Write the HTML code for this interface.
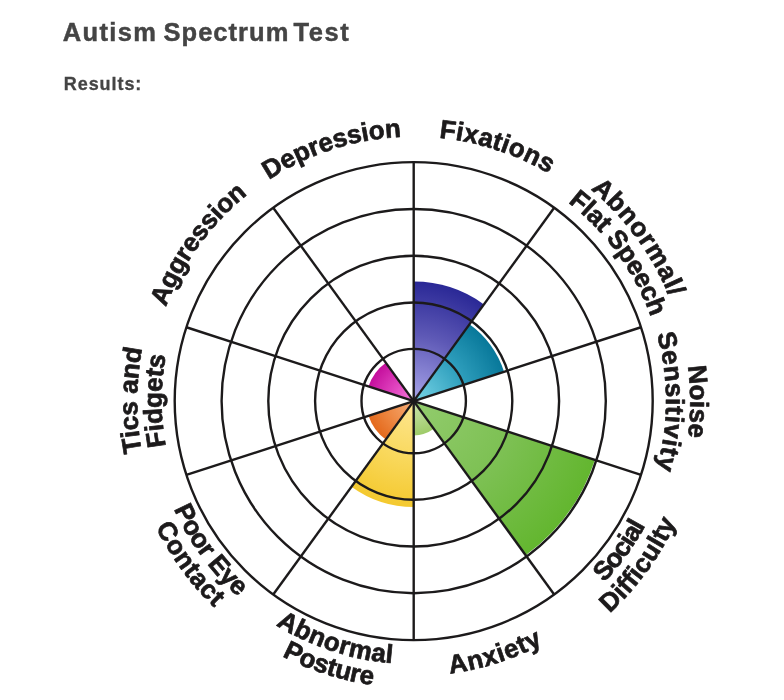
<!DOCTYPE html>
<html lang="en"><head><meta charset="utf-8"><title>Autism Spectrum Test</title>
<style>
html,body{margin:0;padding:0;background:#fff;}
body{width:784px;height:700px;position:relative;overflow:hidden;font-family:"Liberation Sans",sans-serif;color:#444;}
h1{position:absolute;left:64px;top:15px;margin:0;font-size:25.5px;line-height:34px;font-weight:bold;color:#444;letter-spacing:0px;white-space:nowrap;-webkit-text-stroke:0.45px #444;}
h1 span{position:absolute;top:0;}
h1 .w1{left:-1.2px;letter-spacing:1.34px;}
h1 .w2{left:99.5px;letter-spacing:1.03px;}
h1 .w3{left:229.5px;letter-spacing:1.53px;}
h2{position:absolute;left:63.8px;top:70.5px;margin:0;font-size:18px;line-height:26px;font-weight:bold;color:#444;white-space:nowrap;letter-spacing:0.93px;-webkit-text-stroke:0.3px #444;}
svg{position:absolute;left:0;top:0;filter:blur(0.35px);}
svg text{font-family:"Liberation Sans",sans-serif;font-weight:bold;font-size:26px;fill:#1c1a1b;stroke:#1c1a1b;stroke-width:0.7px;stroke-linejoin:round;}
</style></head><body>
<h1><span class="w1">Autism</span> <span class="w2">Spectrum</span> <span class="w3">Test</span></h1>
<h2>Results:</h2>
<svg width="784" height="700" viewBox="0 0 784 700">
<defs>
<radialGradient id="gFix" gradientUnits="userSpaceOnUse" cx="413.7" cy="401.1" r="119.5"><stop offset="0" stop-color="#a9a6ea"/><stop offset="0.55" stop-color="#5e59b6"/><stop offset="1" stop-color="#2a2896"/></radialGradient>
<radialGradient id="gSpe" gradientUnits="userSpaceOnUse" cx="413.7" cy="401.1" r="95.0"><stop offset="0" stop-color="#7ad6e8"/><stop offset="0.55" stop-color="#2f9fbd"/><stop offset="1" stop-color="#08789a"/></radialGradient>
<radialGradient id="gSoc" gradientUnits="userSpaceOnUse" cx="413.7" cy="401.1" r="190.5"><stop offset="0" stop-color="#93cc6e"/><stop offset="0.55" stop-color="#7cc052"/><stop offset="1" stop-color="#63b62f"/></radialGradient>
<radialGradient id="gAnx" gradientUnits="userSpaceOnUse" cx="413.7" cy="401.1" r="34.3"><stop offset="0" stop-color="#cbe3ac"/><stop offset="0.55" stop-color="#b4d78a"/><stop offset="1" stop-color="#9ecb68"/></radialGradient>
<radialGradient id="gPos" gradientUnits="userSpaceOnUse" cx="413.7" cy="401.1" r="106.0"><stop offset="0" stop-color="#fde793"/><stop offset="0.55" stop-color="#f9d85c"/><stop offset="1" stop-color="#f4c92f"/></radialGradient>
<radialGradient id="gEye" gradientUnits="userSpaceOnUse" cx="413.7" cy="401.1" r="47.5"><stop offset="0" stop-color="#f6ae7a"/><stop offset="0.55" stop-color="#ee8a45"/><stop offset="1" stop-color="#e4691c"/></radialGradient>
<radialGradient id="gAgg" gradientUnits="userSpaceOnUse" cx="413.7" cy="401.1" r="47.5"><stop offset="0" stop-color="#f57adb"/><stop offset="0.55" stop-color="#dd3dbb"/><stop offset="1" stop-color="#c40e9c"/></radialGradient>
<path id="p0" d="M439.05,137.82 A264.5,264.5 0 0 1 548.74,173.67"/>
<path id="p1" d="M590.74,189.36 A276.0,276.0 0 0 1 669.42,297.26"/>
<path id="p2" d="M567.85,202.38 A251.5,251.5 0 0 1 650.77,317.15"/>
<path id="p3" d="M687.96,365.97 A276.5,276.5 0 0 1 687.83,437.19"/>
<path id="p4" d="M656.94,334.10 A252.3,252.3 0 0 1 656.71,468.95"/>
<path id="p5" d="M604.16,582.47 A263.0,263.0 0 0 0 645.48,525.38"/>
<path id="p6" d="M609.69,613.49 A289.0,289.0 0 0 0 676.05,522.32"/>
<path id="p7" d="M450.07,673.68 A275.0,275.0 0 0 0 542.80,643.91"/>
<path id="p8" d="M275.89,625.10 A263.0,263.0 0 0 0 392.15,663.22"/>
<path id="p9" d="M282.07,656.13 A287.0,287.0 0 0 0 372.77,685.17"/>
<path id="p10" d="M173.81,508.91 A263.0,263.0 0 0 0 238.06,596.85"/>
<path id="p11" d="M155.75,526.91 A287.0,287.0 0 0 0 214.33,607.55"/>
<path id="p12" d="M141.92,451.96 A276.5,276.5 0 0 1 142.28,348.34"/>
<path id="p13" d="M165.76,446.16 A252.0,252.0 0 0 1 165.92,355.18"/>
<path id="p14" d="M165.97,307.00 A265.0,265.0 0 0 1 247.65,194.58"/>
<path id="p15" d="M268.87,179.78 A264.5,264.5 0 0 1 401.24,136.89"/>
</defs>
<path d="M413.70,401.10 L413.70,281.60 A119.50,119.50 0 0 1 483.94,304.42 Z" fill="url(#gFix)"/>
<path d="M413.70,401.10 L469.54,324.24 A95.00,95.00 0 0 1 504.05,371.74 Z" fill="url(#gSpe)"/>
<path d="M413.70,401.10 L594.88,459.97 A190.50,190.50 0 0 1 525.67,555.22 Z" fill="url(#gSoc)"/>
<path d="M413.70,401.10 L433.86,428.85 A34.30,34.30 0 0 1 413.70,435.40 Z" fill="url(#gAnx)"/>
<path d="M413.70,401.10 L413.70,507.10 A106.00,106.00 0 0 1 351.39,486.86 Z" fill="url(#gPos)"/>
<path d="M413.70,401.10 L385.78,439.53 A47.50,47.50 0 0 1 368.52,415.78 Z" fill="url(#gEye)"/>
<path d="M413.70,401.10 L368.52,386.42 A47.50,47.50 0 0 1 385.78,362.67 Z" fill="url(#gAgg)"/>
<circle cx="413.7" cy="401.1" r="52.2" fill="none" stroke="#1c1a1b" stroke-width="2.4"/>
<circle cx="413.7" cy="401.1" r="98.6" fill="none" stroke="#1c1a1b" stroke-width="2.4"/>
<circle cx="413.7" cy="401.1" r="145.4" fill="none" stroke="#1c1a1b" stroke-width="2.4"/>
<circle cx="413.7" cy="401.1" r="192.1" fill="none" stroke="#1c1a1b" stroke-width="2.4"/>
<circle cx="413.7" cy="401.1" r="239.0" fill="none" stroke="#1c1a1b" stroke-width="2.4"/>
<line x1="413.7" y1="401.1" x2="413.70" y2="162.10" stroke="#1c1a1b" stroke-width="2.4"/>
<line x1="413.7" y1="401.1" x2="554.18" y2="207.74" stroke="#1c1a1b" stroke-width="2.4"/>
<line x1="413.7" y1="401.1" x2="641.00" y2="327.24" stroke="#1c1a1b" stroke-width="2.4"/>
<line x1="413.7" y1="401.1" x2="641.00" y2="474.96" stroke="#1c1a1b" stroke-width="2.4"/>
<line x1="413.7" y1="401.1" x2="554.18" y2="594.46" stroke="#1c1a1b" stroke-width="2.4"/>
<line x1="413.7" y1="401.1" x2="413.70" y2="640.10" stroke="#1c1a1b" stroke-width="2.4"/>
<line x1="413.7" y1="401.1" x2="273.22" y2="594.46" stroke="#1c1a1b" stroke-width="2.4"/>
<line x1="413.7" y1="401.1" x2="186.40" y2="474.96" stroke="#1c1a1b" stroke-width="2.4"/>
<line x1="413.7" y1="401.1" x2="186.40" y2="327.24" stroke="#1c1a1b" stroke-width="2.4"/>
<line x1="413.7" y1="401.1" x2="273.22" y2="207.74" stroke="#1c1a1b" stroke-width="2.4"/>
<text textLength="116.3" lengthAdjust="spacing"><textPath href="#p0" textLength="116.3" lengthAdjust="spacing">Fixations</textPath></text>
<text textLength="134.9" lengthAdjust="spacing"><textPath href="#p1" textLength="134.9" lengthAdjust="spacing">Abnormal/</textPath></text>
<text textLength="143.5" lengthAdjust="spacing"><textPath href="#p2" textLength="143.5" lengthAdjust="spacing">Flat Speech</textPath></text>
<text textLength="71.4" lengthAdjust="spacing"><textPath href="#p3" textLength="71.4" lengthAdjust="spacing">Noise</textPath></text>
<text textLength="136.5" lengthAdjust="spacing"><textPath href="#p4" textLength="136.5" lengthAdjust="spacing">Sensitivity</textPath></text>
<text textLength="70.7" lengthAdjust="spacing"><textPath href="#p5" textLength="70.7" lengthAdjust="spacing">Social</textPath></text>
<text textLength="113.5" lengthAdjust="spacing"><textPath href="#p6" textLength="113.5" lengthAdjust="spacing">Difficulty</textPath></text>
<text textLength="97.9" lengthAdjust="spacing"><textPath href="#p7" textLength="97.9" lengthAdjust="spacing">Anxiety</textPath></text>
<text textLength="123.5" lengthAdjust="spacing"><textPath href="#p8" textLength="123.5" lengthAdjust="spacing">Abnormal</textPath></text>
<text textLength="95.7" lengthAdjust="spacing"><textPath href="#p9" textLength="95.7" lengthAdjust="spacing">Posture</textPath></text>
<text textLength="109.7" lengthAdjust="spacing"><textPath href="#p10" textLength="109.7" lengthAdjust="spacing">Poor Eye</textPath></text>
<text textLength="100.2" lengthAdjust="spacing"><textPath href="#p11" textLength="100.2" lengthAdjust="spacing">Contact</textPath></text>
<text textLength="104.2" lengthAdjust="spacing"><textPath href="#p12" textLength="104.2" lengthAdjust="spacing">Tics and</textPath></text>
<text textLength="91.5" lengthAdjust="spacing"><textPath href="#p13" textLength="91.5" lengthAdjust="spacing">Fidgets</textPath></text>
<text textLength="140.6" lengthAdjust="spacing"><textPath href="#p14" textLength="140.6" lengthAdjust="spacing">Aggression</textPath></text>
<text textLength="140.8" lengthAdjust="spacing"><textPath href="#p15" textLength="140.8" lengthAdjust="spacing">Depression</textPath></text>
</svg>
</body></html>
